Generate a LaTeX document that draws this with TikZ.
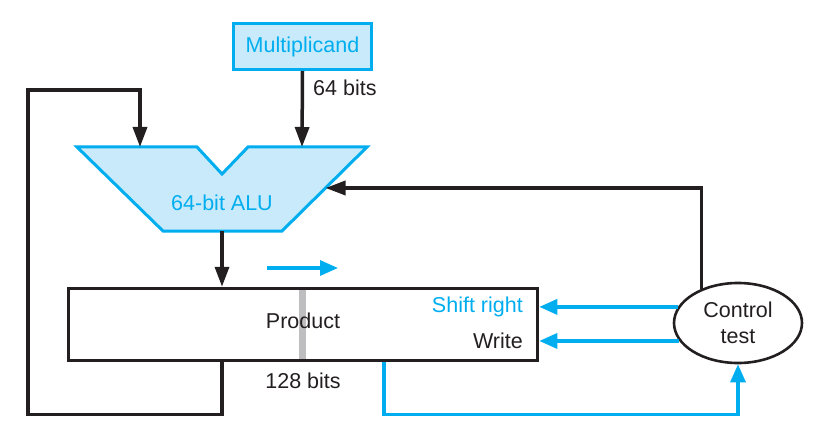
\documentclass[tikz,border=0pt]{standalone}
\usepackage{fontspec}
\setmainfont{Liberation Sans}
\usetikzlibrary{shapes.geometric,arrows.meta,calc}
\definecolor{cyanline}{RGB}{0,174,239}
\definecolor{cyanfill}{RGB}{200,234,250}
\definecolor{ink}{RGB}{35,31,32}
\definecolor{bargray}{RGB}{190,190,192}
\tikzset{
  txt/.style={font=\fontsize{21.5}{25}\selectfont, text=ink, inner sep=0pt},
  bluetxt/.style={font=\fontsize{21.5}{25}\selectfont, text=cyanline, inner sep=0pt},
  blk/.style={draw=ink, line width=3.5pt},
  blkarrow/.style={blk, -{Triangle[length=20pt,width=14pt]}},
  bluearrow/.style={draw=cyanline, line width=3.3pt, -{Triangle[length=18pt,width=15pt]}},
  bluebox/.style={draw=cyanline, fill=cyanfill, line width=3pt},
}
\begin{document}
\begin{tikzpicture}[x=1pt,y=-1pt]
\useasboundingbox (0,0) rectangle (817,441);
% Multiplicand
\node[bluebox, minimum width=138pt, minimum height=46pt, bluetxt, inner sep=0pt] (mult) at (302.5,46.5) {Multiplicand};
\node[txt, anchor=west] (b64) at (313,88) {64 bits};
% ALU shape
\coordinate (aluTL) at (77,147);
\coordinate (aluN1) at (197,147);
\coordinate (aluN) at (222,174);
\coordinate (aluN2) at (248,147);
\coordinate (aluTR) at (367,147);
\coordinate (aluBR) at (282,231);
\coordinate (aluBL) at (163,231);
\filldraw[bluebox] (aluTL) -- (aluN1) -- (aluN) -- (aluN2) -- (aluTR) -- (aluBR) -- (aluBL) -- cycle;
\node[bluetxt] (alu) at (222,203) {64-bit ALU};
\coordinate (aluB) at (222,231);
\coordinate (aluInL) at (140,147);
\coordinate (aluInR) at (302,147);
\path (aluTR) -- (aluBR) coordinate[pos=0.488] (aluRin);
% Product
\fill[bargray] (299,289) rectangle (306,361);
\node[blk, minimum width=469pt, minimum height=72pt] (prod) at (303,324.5) {};
\node[txt] (prodtxt) at (303,321) {Product};
\node[txt] (b128) at (303,381) {128 bits};
\node[bluetxt, anchor=east] (shr) at (523,307) {Shift right};
\node[txt, anchor=east] (wr) at (523,341) {Write};
% shift arrow
\coordinate (sh1) at (267,268);
\coordinate (sh2) at (338,268);
\draw[bluearrow] (sh1) -- (sh2);
% Control
\node[ellipse, draw=ink, line width=2.6pt, minimum width=128pt, minimum height=80pt, fill=white, txt, align=center] (ctrl) at (738,323) {Control\\[1pt]test};
% connectors
\draw[blkarrow] (mult.south) -- (aluInR);
\draw[blkarrow] (aluB) -- (aluB |- prod.north);
\draw[blkarrow] (aluB |- prod.south) -- ++(0,52) -| (28,90) -| (aluInL);
\draw[blkarrow] (ctrl.137) |- (aluRin);
\draw[bluearrow] (ctrl.165) -- (ctrl.165 -| prod.east);
\draw[bluearrow] (ctrl.197) -- (ctrl.197 -| prod.east);
\draw[bluearrow] ([xshift=81pt]prod.south) -- ++(0,52) -| (ctrl.south);
\end{tikzpicture}
\end{document}
